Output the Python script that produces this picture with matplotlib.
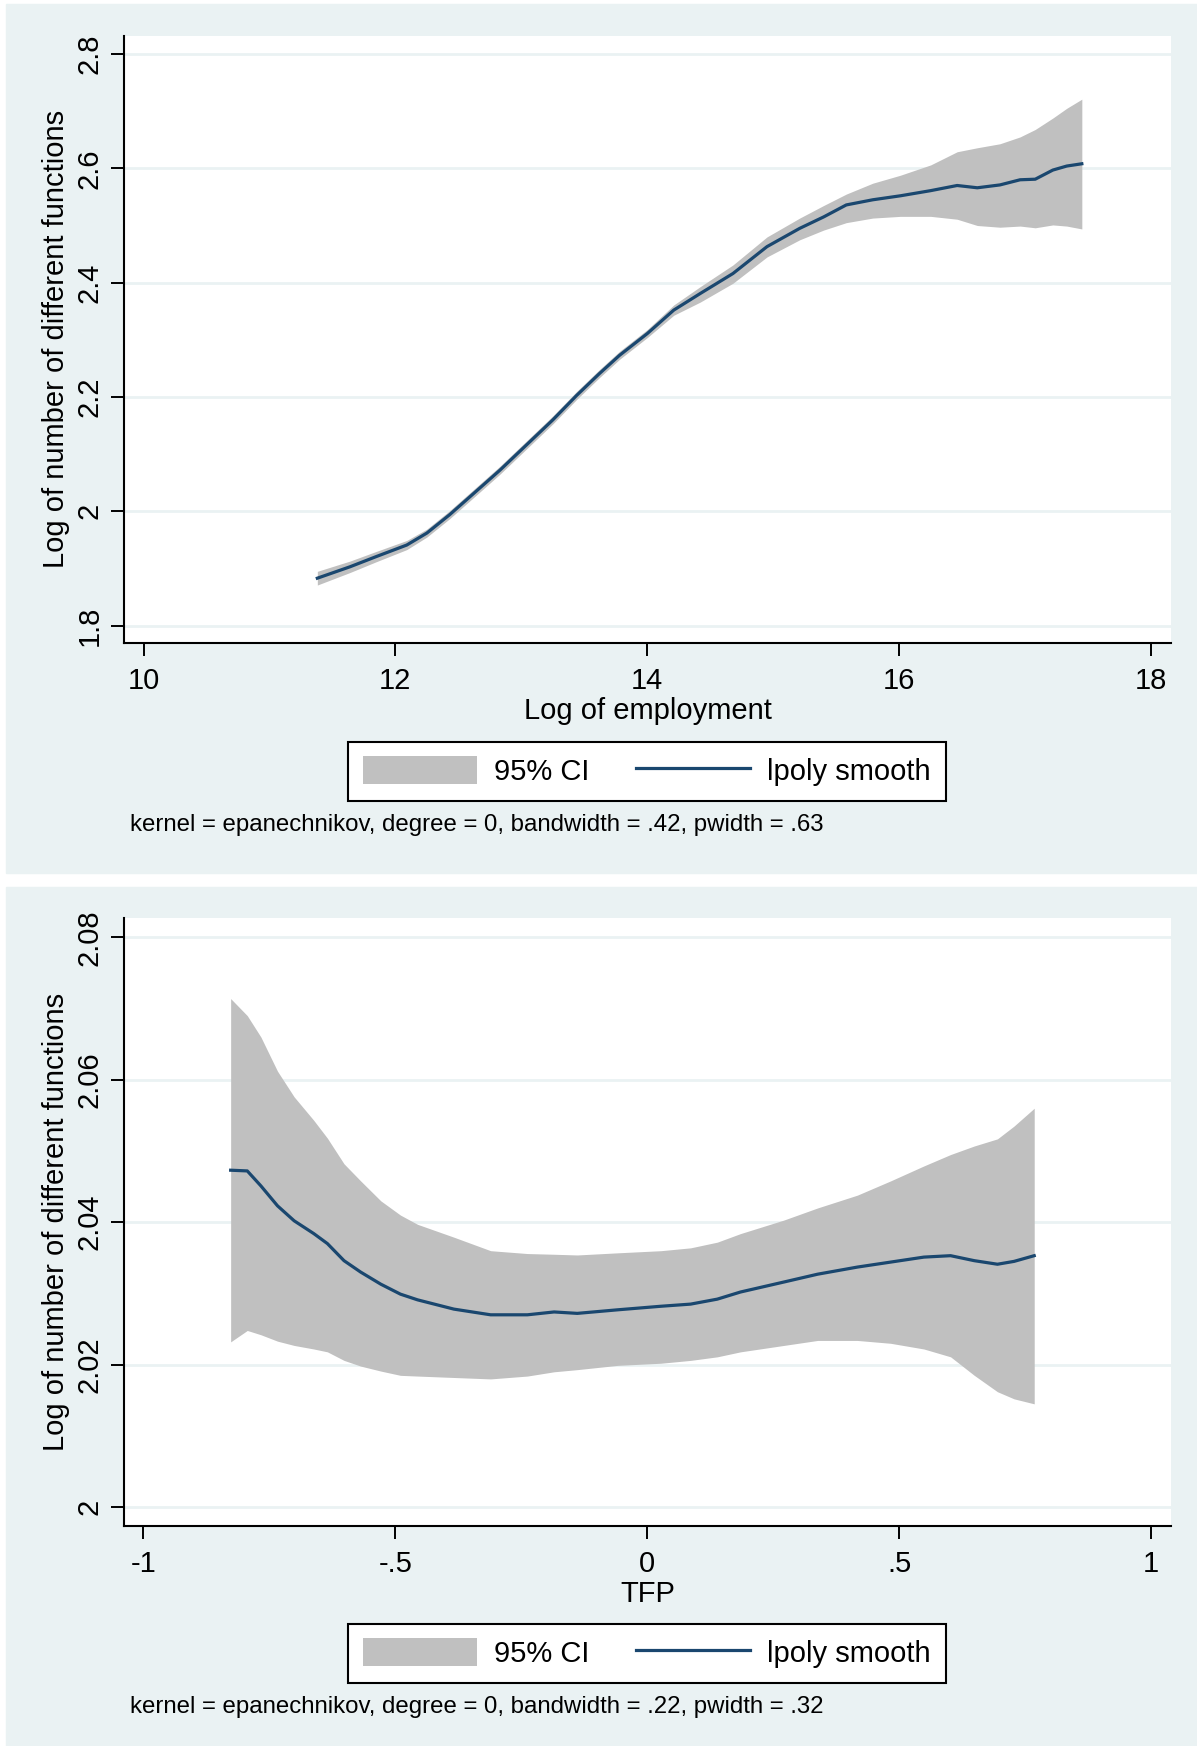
"""Suavizado lpoly (Epanechnikov, grado 0) del log de funciones distintas,
frente al log del empleo (arriba) y frente a la TFP (abajo), con IC 95%."""
import matplotlib.pyplot as plt
from matplotlib.patches import Rectangle

plt.rcParams.update({
    "font.family": ["Liberation Sans", "DejaVu Sans"],
    "font.size": 21,
    "axes.linewidth": 1.5,
})

ANCHO, ALTO, DPI = 1197, 1746, 100
FONDO = "#EAF2F3"      # ltbluishgray de Stata
AZUL = "#1A476F"       # navy
GRIS_IC = "#C0C0C0"

# --- panel 1: log del empleo ---
emp_x = [11.38, 11.64, 11.85, 12.09, 12.25, 12.43, 12.62, 12.83, 13.04, 13.25,
         13.44, 13.62, 13.78, 14.00, 14.21, 14.42, 14.68, 14.95, 15.21, 15.40,
         15.58, 15.79, 16.01, 16.25, 16.46, 16.62, 16.80, 16.96, 17.08, 17.22,
         17.33, 17.45]
emp_fit = [1.883, 1.903, 1.921, 1.941, 1.962, 1.994, 2.031, 2.072, 2.116, 2.160,
           2.203, 2.241, 2.273, 2.311, 2.352, 2.381, 2.416, 2.463, 2.495, 2.515,
           2.536, 2.545, 2.552, 2.561, 2.570, 2.566, 2.571, 2.580, 2.581, 2.597,
           2.604, 2.608]
emp_lo = [1.871, 1.893, 1.912, 1.933, 1.955, 1.987, 2.024, 2.065, 2.109, 2.153,
          2.196, 2.234, 2.266, 2.304, 2.343, 2.366, 2.399, 2.445, 2.475, 2.492,
          2.505, 2.513, 2.516, 2.516, 2.511, 2.500, 2.497, 2.499, 2.496, 2.501,
          2.499, 2.494]
emp_hi = [1.895, 1.913, 1.930, 1.949, 1.969, 2.001, 2.038, 2.079, 2.123, 2.167,
          2.210, 2.248, 2.280, 2.318, 2.361, 2.393, 2.431, 2.480, 2.513, 2.535,
          2.555, 2.574, 2.588, 2.606, 2.629, 2.636, 2.643, 2.655, 2.668, 2.688,
          2.705, 2.721]
emp_xticks = [10, 12, 14, 16, 18]
emp_xticklabels = ["10", "12", "14", "16", "18"]
emp_yticks = [1.8, 2.0, 2.2, 2.4, 2.6, 2.8]
emp_yticklabels = ["1.8", "2", "2.2", "2.4", "2.6", "2.8"]

# --- panel 2: TFP ---
tfp_x = [-0.827, -0.794, -0.767, -0.734, -0.701, -0.662, -0.635, -0.602, -0.569,
         -0.529, -0.490, -0.456, -0.384, -0.311, -0.238, -0.185, -0.139, -0.059,
         0.027, 0.086, 0.139, 0.185, 0.271, 0.338, 0.417, 0.483, 0.549, 0.602,
         0.649, 0.695, 0.728, 0.768]
tfp_fit = [2.0473, 2.0472, 2.0451, 2.0423, 2.0402, 2.0384, 2.0370, 2.0346, 2.0330,
           2.0313, 2.0299, 2.0291, 2.0278, 2.0270, 2.0270, 2.0274, 2.0272, 2.0277,
           2.0282, 2.0285, 2.0292, 2.0302, 2.0316, 2.0327, 2.0337, 2.0344, 2.0351,
           2.0353, 2.0346, 2.0341, 2.0345, 2.0353]
tfp_lo = [2.0232, 2.0248, 2.0242, 2.0233, 2.0227, 2.0222, 2.0218, 2.0206, 2.0198,
          2.0191, 2.0185, 2.0184, 2.0182, 2.0180, 2.0184, 2.0190, 2.0193, 2.0199,
          2.0202, 2.0206, 2.0211, 2.0218, 2.0227, 2.0234, 2.0234, 2.0230, 2.0222,
          2.0211, 2.0185, 2.0162, 2.0152, 2.0145]
tfp_hi = [2.0714, 2.0690, 2.0660, 2.0612, 2.0576, 2.0543, 2.0518, 2.0482, 2.0458,
          2.0430, 2.0410, 2.0397, 2.0379, 2.0360, 2.0356, 2.0355, 2.0354, 2.0357,
          2.0360, 2.0364, 2.0372, 2.0384, 2.0403, 2.0420, 2.0438, 2.0458, 2.0479,
          2.0495, 2.0507, 2.0517, 2.0535, 2.0560]
tfp_xticks = [-1, -0.5, 0, 0.5, 1]
tfp_xticklabels = ["-1", "-.5", "0", ".5", "1"]
tfp_yticks = [2.0, 2.02, 2.04, 2.06, 2.08]
tfp_yticklabels = ["2", "2.02", "2.04", "2.06", "2.08"]

YLABEL = "Log of number of different functions"


def caja(fig, x0, y0, x1, y1, **kw):
    """Rectángulo en píxeles (origen arriba a la izquierda)."""
    fig.patches.append(Rectangle((x0 / ANCHO, 1 - y1 / ALTO), (x1 - x0) / ANCHO,
                                 (y1 - y0) / ALTO, transform=fig.transFigure, **kw))


def panel(fig, top, x, fit, lo, hi, xlim, ylim, xticks, xtl, yticks, ytl,
          xlabel, nota, fondo):
    caja(fig, 5.7, fondo[0], ANCHO, fondo[1], color=FONDO, zorder=-10)
    alto = 607.8
    ax = fig.add_axes([124 / ANCHO, 1 - (top + alto) / ALTO, 1047 / ANCHO, alto / ALTO])
    ax.set_facecolor("white")
    ic = ax.fill_between(x, lo, hi, color=GRIS_IC, lw=0, zorder=2)
    ln, = ax.plot(x, fit, color=AZUL, lw=2.3, zorder=3)
    ax.set_xlim(*xlim)
    ax.set_ylim(*ylim)
    ax.set_xticks(xticks, xtl)
    ax.set_yticks(yticks, ytl)
    for lab in ax.get_yticklabels():
        lab.set_rotation(90)
        lab.set_va("center")
    ax.grid(axis="y", color=FONDO, lw=2.0, zorder=1)
    ax.set_axisbelow(True)
    for s in ("top", "right"):
        ax.spines[s].set_visible(False)
    ax.tick_params(direction="out", length=9.4, width=1.4, labelsize=21)
    ax.tick_params(axis="x", pad=8)
    ax.tick_params(axis="y", pad=5.5)

    ax.set_xlabel(xlabel, fontsize=21)
    ax.xaxis.set_label_coords(0.5, -68 / alto)
    ax.xaxis.label.set_va("center")
    ax.set_ylabel(YLABEL, fontsize=21)
    ax.yaxis.set_label_coords(-68 / 1047, 0.5)
    ax.yaxis.label.set_va("center")

    leg = ax.legend([ic, ln], ["95% CI", "lpoly smooth"], ncol=2,
                    loc="upper center", bbox_to_anchor=(0.4995, -98.4 / alto),
                    borderaxespad=0, fancybox=False, framealpha=1,
                    edgecolor="black", handlelength=3.9, handleheight=1.1,
                    handletextpad=0.6, columnspacing=1.6, borderpad=0.5,
                    fontsize=21)
    leg.get_frame().set_linewidth(1.5)
    fig.text(130 / ANCHO, 1 - (top + alto + 182) / ALTO, nota, fontsize=17.3,
             va="center", ha="left")
    return ax


fig = plt.figure(figsize=(ANCHO / DPI, ALTO / DPI), dpi=DPI, facecolor="white")

panel(fig, 35.5, emp_x, emp_fit, emp_lo, emp_hi, (9.845, 18.158), (1.7691, 2.8324),
      emp_xticks, emp_xticklabels, emp_yticks, emp_yticklabels,
      "Log of employment",
      "kernel = epanechnikov, degree = 0, bandwidth = .42, pwidth = .63",
      (4, 873))
panel(fig, 917.7, tfp_x, tfp_fit, tfp_lo, tfp_hi, (-1.0387, 1.0395), (1.99742, 2.08275),
      tfp_xticks, tfp_xticklabels, tfp_yticks, tfp_yticklabels,
      "TFP",
      "kernel = epanechnikov, degree = 0, bandwidth = .22, pwidth = .32",
      (886.7, ALTO))

fig.savefig("out.png", dpi=DPI, facecolor="white")
